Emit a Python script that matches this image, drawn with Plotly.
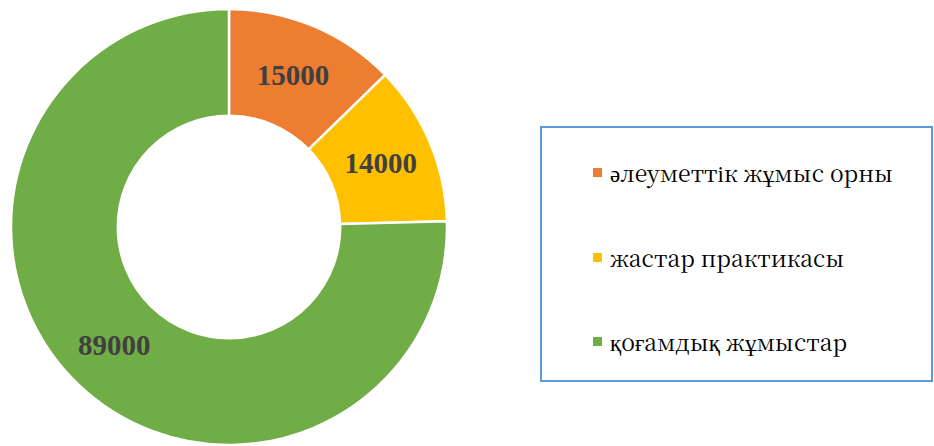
import plotly.graph_objects as go

labels = ["әлеуметтік жұмыс орны", "жастар практикасы", "қоғамдық жұмыстар"]
values = [15000, 14000, 89000]
colors = ["#ED7D31", "#FFC000", "#70AD47"]

W, H = 934, 446
NUM_FONT = "Liberation Serif, Times New Roman, serif"
TXT_FONT = "Noto Serif CJK SC"

fig = go.Figure()
fig.add_trace(go.Pie(
    labels=labels,
    values=values,
    hole=0.51,
    sort=False,
    direction="clockwise",
    rotation=0,
    marker=dict(colors=colors, line=dict(color="white", width=2.5)),
    texttemplate="%{value:.0f}",
    textposition="inside",
    insidetextorientation="horizontal",
    textfont=dict(family=NUM_FONT, size=29, color="#404040", weight="bold"),
    domain=dict(x=[11 / W, 447 / W], y=[1 - 445 / H, 1 - 9 / H]),
    showlegend=False,
    hoverinfo="label+value",
))

# Legend box
fig.add_shape(type="rect", xref="paper", yref="paper",
              x0=541 / W, x1=932 / W, y0=1 - 381 / H, y1=1 - 127 / H,
              line=dict(color="#5B9BD5", width=2), fillcolor="white")

item_y = [173, 258, 342]
for lab, col, yy in zip(labels, colors, item_y):
    fig.add_shape(type="rect", xref="paper", yref="paper",
                  x0=593 / W, x1=602 / W, y0=1 - (yy + 4) / H, y1=1 - (yy - 5) / H,
                  line=dict(width=0), fillcolor=col)
    fig.add_annotation(x=608 / W, y=1 - (yy - 1) / H, xref="paper", yref="paper",
                       text=lab, showarrow=False, xanchor="left", yanchor="middle",
                       font=dict(family=TXT_FONT, size=23, color="#000000"))

fig.update_layout(
    width=W, height=H,
    margin=dict(l=0, r=0, t=0, b=0),
    paper_bgcolor="white", plot_bgcolor="white",
)

fig.write_html("out.html", config={"displayModeBar": False},
               post_script="document.body.style.margin='0';document.body.style.overflow='hidden';")
